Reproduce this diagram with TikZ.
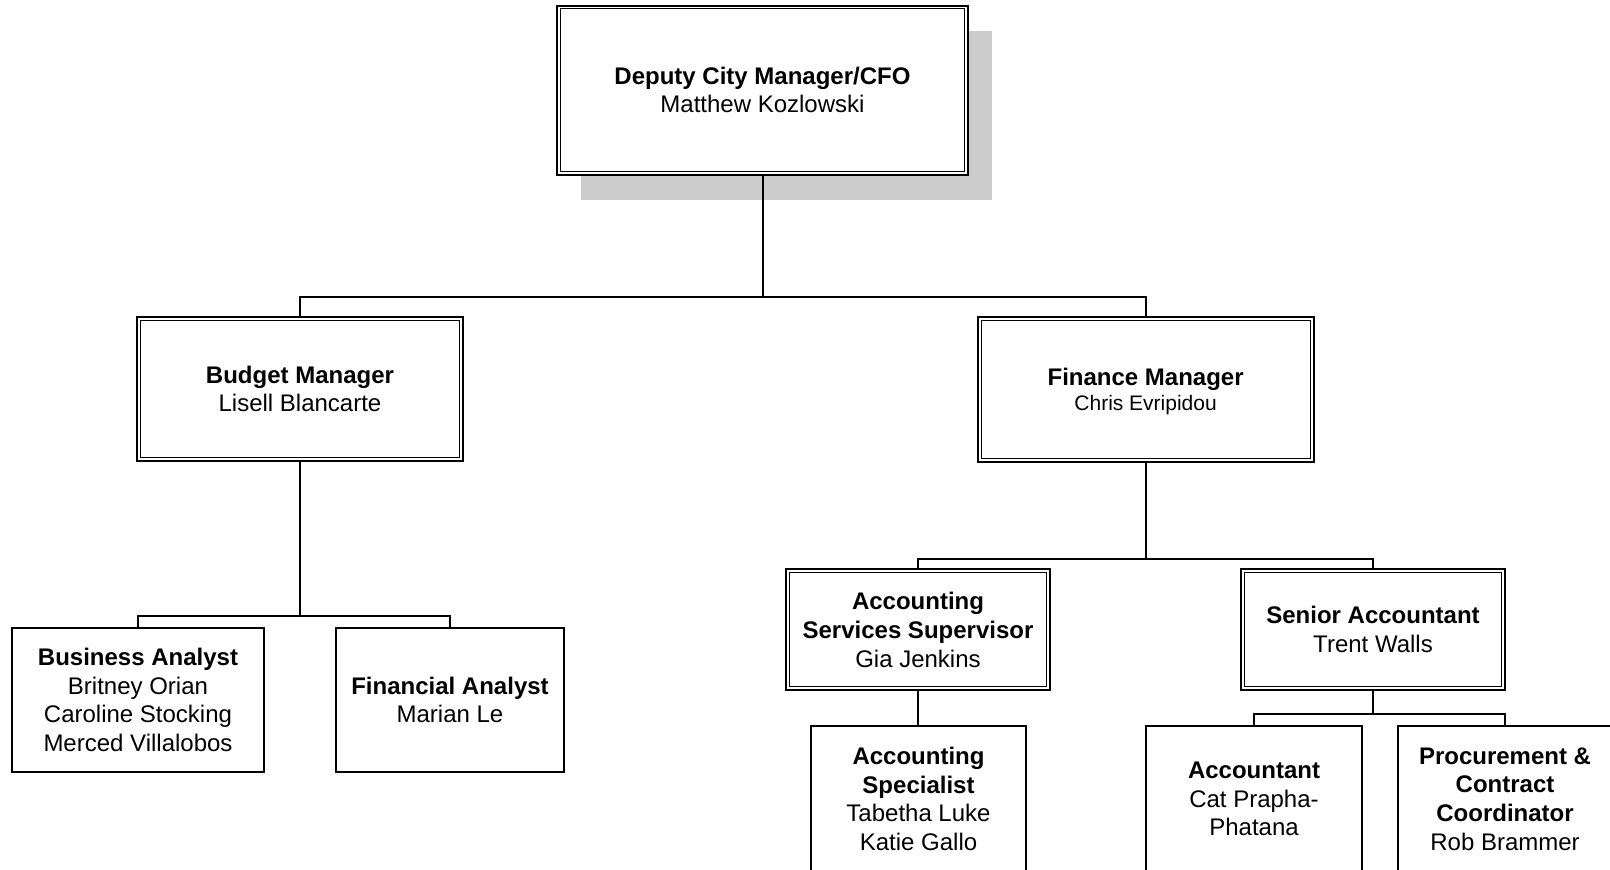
\documentclass[tikz,border=0pt]{standalone}
\usepackage{fontspec}
\setmainfont{Liberation Sans}
\usetikzlibrary{shadows}

\begin{document}
\begin{tikzpicture}[
    x=0.5pt, y=-0.5pt,
    every node/.style={
        rectangle, draw,
        line width=1pt,
        inner sep=0pt,
        align=center,
        font=\fontsize{12}{14.4}\selectfont
    },
    link/.style={line width=1pt},
    rim/.style={line width=0.5pt}
]
\useasboundingbox (0,0) rectangle (1610,869);
\begin{scope}[overlay]
\clip (0,0) rectangle (1610,869);

% top of the chart
\node[fill=white, minimum width=205.5pt, minimum height=84.5pt,
      drop shadow={shadow xshift=12pt, shadow yshift=-12.5pt,
                   fill=black!20, opacity=1}]
    (cfo) at (762.5,90) {\textbf{Deputy City Manager/CFO}\\Matthew Kozlowski};

% managers
\node[minimum width=163pt, minimum height=72pt]
    (budget) at (300,389) {\textbf{Budget Manager}\\Lisell Blancarte};
\node[minimum width=168pt, minimum height=72.5pt]
    (finance) at (1145.6,389.5)
    {\textbf{Finance Manager}\rule{0pt}{10.6pt}\\[-1.5pt]{\fontsize{10.5}{12}\selectfont Chris Evripidou}};

% budget staff
\node[minimum width=126pt, minimum height=72pt]
    (business) at (138,700)
    {\textbf{Business Analyst}\\Britney Orian\\Caroline Stocking\\Merced Villalobos};
\node[minimum width=114pt, minimum height=72pt]
    (financial) at (450,700) {\textbf{Financial Analyst}\\Marian Le};

% finance staff
\node[minimum width=132pt, minimum height=60.25pt]
    (acctsup) at (918,629.7)
    {\textbf{Accounting}\\\textbf{Services Supervisor}\\Gia Jenkins};
\node[minimum width=132pt, minimum height=60.25pt]
    (senior) at (1373,629.7) {\textbf{Senior Accountant}\\Trent Walls};

% bottom row runs past the page edge
\node[minimum width=107.5pt, minimum height=73pt]
    (specialist) at (918.5,799)
    {\textbf{Accounting}\\\textbf{Specialist}\\Tabetha Luke\\Katie Gallo};
\node[minimum width=108pt, minimum height=73pt]
    (accountant) at (1254,799) {\textbf{Accountant}\\Cat Prapha-\\Phatana};
\node[minimum width=107pt, minimum height=73pt]
    (procure) at (1505,799)
    {\textbf{Procurement \&}\\\textbf{Contract}\\\textbf{Coordinator}\\Rob Brammer};

% double borders
\foreach \n in {cfo,budget,finance,acctsup,senior}
    \draw[rim] ([shift={(2.2pt,-2.2pt)}]\n.north west)
        rectangle ([shift={(-2.2pt,2.2pt)}]\n.south east);

% connectors
\draw[link] (cfo.south) -- ++(0,121) -| (budget.north);
\draw[link] (cfo.south) -- ++(0,121) -| (finance.north);
\draw[link] (budget.south) -- ++(0,154) -| (business.north);
\draw[link] (budget.south) -- ++(0,154) -| (financial.north);
\draw[link] (finance.south) -- ++(0,95.5) -| (acctsup.north);
\draw[link] (finance.south) -- ++(0,95.5) -| (senior.north);
\draw[link] (acctsup.south) -- (acctsup.south |- specialist.north);
\draw[link] (senior.south) -- ++(0,23) -| (accountant.north);
\draw[link] (senior.south) -- ++(0,23) -| (procure.north);
\end{scope}
\end{tikzpicture}
\end{document}
